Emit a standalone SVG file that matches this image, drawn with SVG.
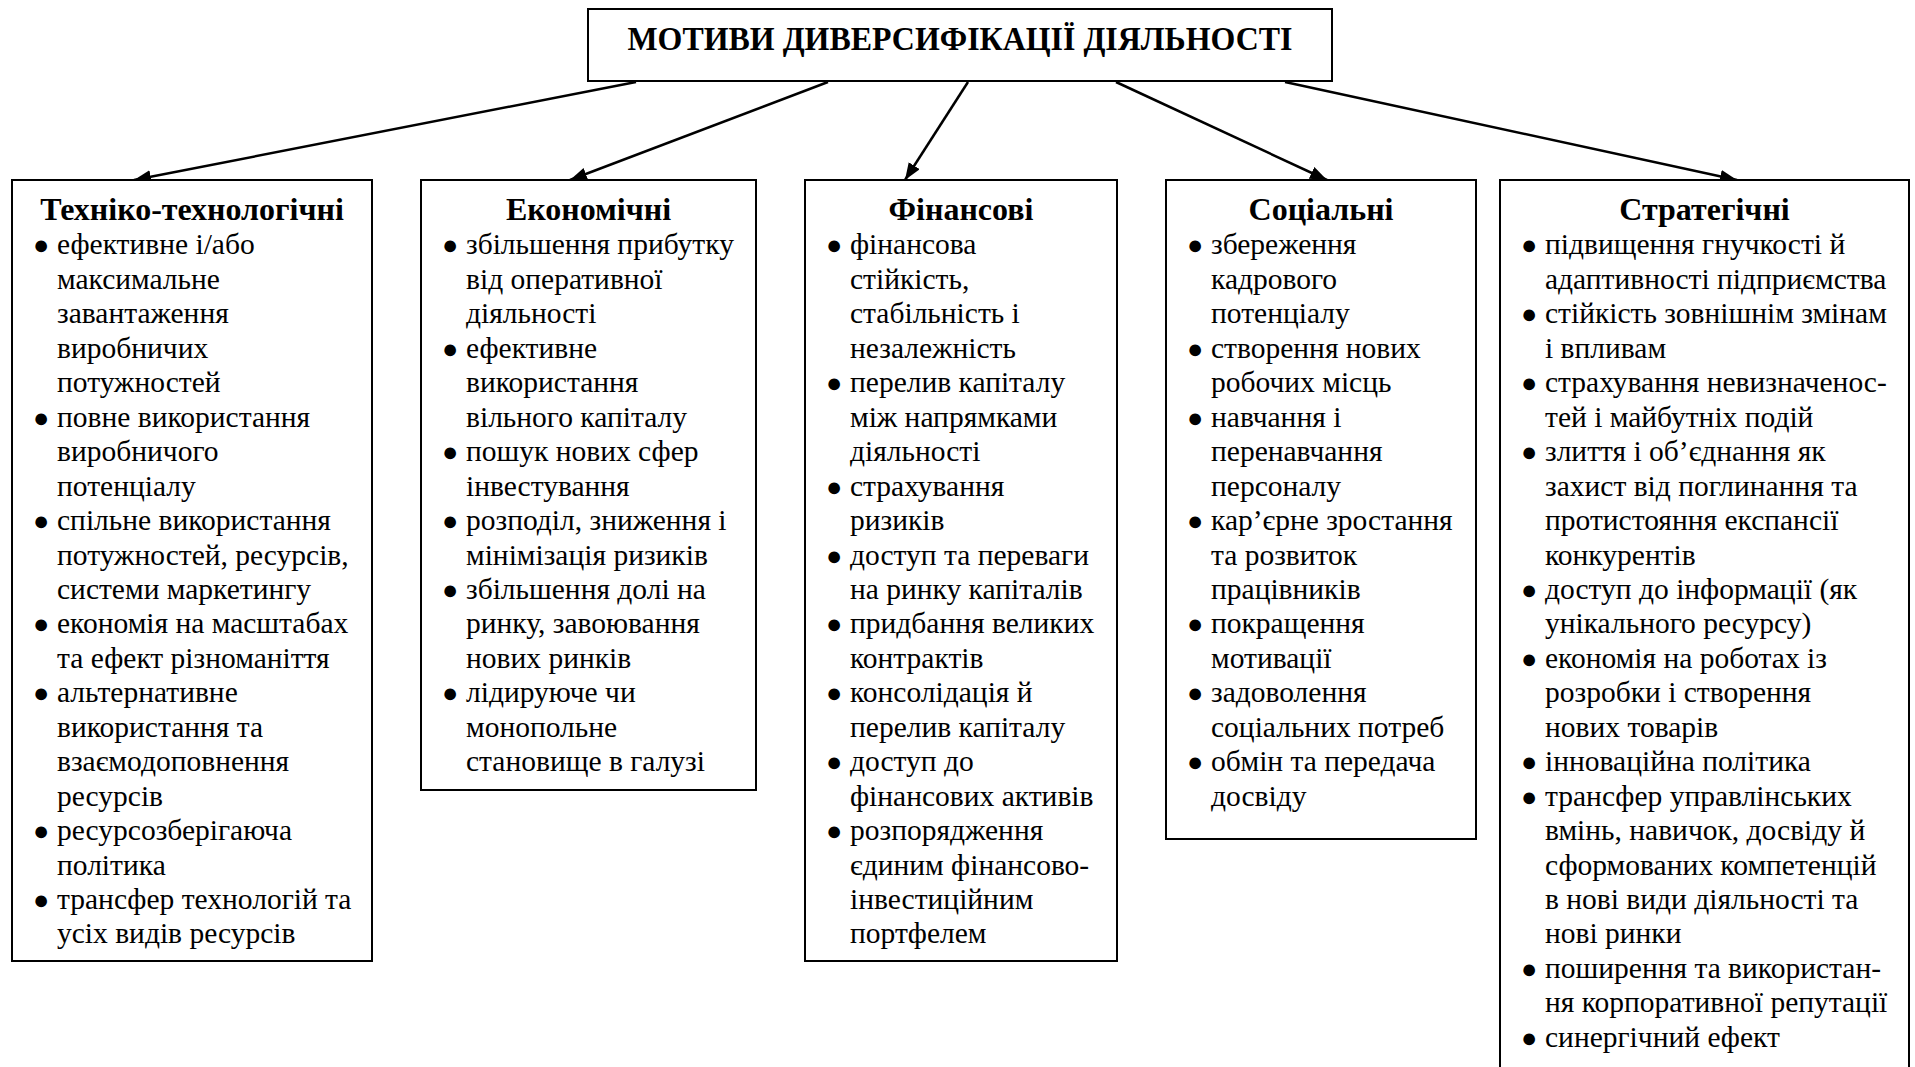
<svg xmlns="http://www.w3.org/2000/svg" width="1915" height="1067" viewBox="0 0 1915 1067">
<style>
.box{fill:#fff;stroke:#000;stroke-width:2}
.hd{font-family:"Liberation Serif","Times New Roman",serif;font-weight:bold;font-size:32px;text-anchor:middle;fill:#000}
.tt{font-family:"Liberation Serif","Times New Roman",serif;font-weight:bold;font-size:34px;text-anchor:middle;fill:#000}
.b{font-family:"Liberation Serif","Times New Roman",serif;font-size:29.5px;fill:#000}
.bul{font-family:"Liberation Serif","DejaVu Sans",serif;font-size:27px;fill:#000}
.cn{stroke:#000;stroke-width:2.5;fill:none;marker-end:url(#ah)}
</style>
<defs>
<marker id="ah" markerUnits="userSpaceOnUse" markerWidth="18" markerHeight="14" refX="17" refY="6.5" orient="auto">
<path d="M0,0 L17,6.5 L0,13 z" fill="#000"/>
</marker>
</defs>
<rect width="1915" height="1067" fill="#fff"/>
<g id="connectors">
<line class="cn" x1="636" y1="82" x2="134" y2="180"/>
<line class="cn" x1="828" y1="82" x2="570" y2="180"/>
<line class="cn" x1="968" y1="82" x2="905" y2="180"/>
<line class="cn" x1="1116" y1="82" x2="1327" y2="180"/>
<line class="cn" x1="1285" y1="82" x2="1737" y2="180"/>
</g>
<g id="root">
<rect class="box" x="588" y="9" width="744" height="72"/>
<text class="tt" x="960" y="50" textLength="665" lengthAdjust="spacingAndGlyphs">МОТИВИ ДИВЕРСИФІКАЦІЇ ДІЯЛЬНОСТІ</text>
</g>
<g id="tech">
<rect class="box" x="12" y="180" width="360" height="781"/>
<text class="hd" x="192" y="220">Техніко-технологічні</text>
<g class="bul">
<text x="33" y="254">●</text><text x="33" y="427">●</text><text x="33" y="530">●</text><text x="33" y="633">●</text><text x="33" y="702">●</text><text x="33" y="840">●</text><text x="33" y="909">●</text>
</g>
<text class="b">
<tspan x="57" y="254">ефективне і/або</tspan>
<tspan x="57" y="289">максимальне</tspan>
<tspan x="57" y="323">завантаження</tspan>
<tspan x="57" y="358">виробничих</tspan>
<tspan x="57" y="392">потужностей</tspan>
<tspan x="57" y="427">повне використання</tspan>
<tspan x="57" y="461">виробничого</tspan>
<tspan x="57" y="496">потенціалу</tspan>
<tspan x="57" y="530">спільне використання</tspan>
<tspan x="57" y="565">потужностей, ресурсів,</tspan>
<tspan x="57" y="599">системи маркетингу</tspan>
<tspan x="57" y="633">економія на масштабах</tspan>
<tspan x="57" y="668">та ефект різноманіття</tspan>
<tspan x="57" y="702">альтернативне</tspan>
<tspan x="57" y="737">використання та</tspan>
<tspan x="57" y="771">взаємодоповнення</tspan>
<tspan x="57" y="806">ресурсів</tspan>
<tspan x="57" y="840">ресурсозберігаюча</tspan>
<tspan x="57" y="875">політика</tspan>
<tspan x="57" y="909">трансфер технологій та</tspan>
<tspan x="57" y="943">усіх видів ресурсів</tspan>
</text>
</g>
<g id="econ">
<rect class="box" x="421" y="180" width="335" height="610"/>
<text class="hd" x="588.5" y="220">Економічні</text>
<g class="bul">
<text x="442" y="254">●</text><text x="442" y="358">●</text><text x="442" y="461">●</text><text x="442" y="530">●</text><text x="442" y="599">●</text><text x="442" y="702">●</text>
</g>
<text class="b">
<tspan x="466" y="254">збільшення прибутку</tspan>
<tspan x="466" y="289">від оперативної</tspan>
<tspan x="466" y="323">діяльності</tspan>
<tspan x="466" y="358">ефективне</tspan>
<tspan x="466" y="392">використання</tspan>
<tspan x="466" y="427">вільного капіталу</tspan>
<tspan x="466" y="461">пошук нових сфер</tspan>
<tspan x="466" y="496">інвестування</tspan>
<tspan x="466" y="530">розподіл, зниження і</tspan>
<tspan x="466" y="565">мінімізація ризиків</tspan>
<tspan x="466" y="599">збільшення долі на</tspan>
<tspan x="466" y="633">ринку, завоювання</tspan>
<tspan x="466" y="668">нових ринків</tspan>
<tspan x="466" y="702">лідируюче чи</tspan>
<tspan x="466" y="737">монопольне</tspan>
<tspan x="466" y="771">становище в галузі</tspan>
</text>
</g>
<g id="fin">
<rect class="box" x="805" y="180" width="312" height="781"/>
<text class="hd" x="961" y="220">Фінансові</text>
<g class="bul">
<text x="826" y="254">●</text><text x="826" y="392">●</text><text x="826" y="496">●</text><text x="826" y="565">●</text><text x="826" y="633">●</text><text x="826" y="702">●</text><text x="826" y="771">●</text><text x="826" y="840">●</text>
</g>
<text class="b">
<tspan x="850" y="254">фінансова</tspan>
<tspan x="850" y="289">стійкість,</tspan>
<tspan x="850" y="323">стабільність і</tspan>
<tspan x="850" y="358">незалежність</tspan>
<tspan x="850" y="392">перелив капіталу</tspan>
<tspan x="850" y="427">між напрямками</tspan>
<tspan x="850" y="461">діяльності</tspan>
<tspan x="850" y="496">страхування</tspan>
<tspan x="850" y="530">ризиків</tspan>
<tspan x="850" y="565">доступ та переваги</tspan>
<tspan x="850" y="599">на ринку капіталів</tspan>
<tspan x="850" y="633">придбання великих</tspan>
<tspan x="850" y="668">контрактів</tspan>
<tspan x="850" y="702">консолідація й</tspan>
<tspan x="850" y="737">перелив капіталу</tspan>
<tspan x="850" y="771">доступ до</tspan>
<tspan x="850" y="806">фінансових активів</tspan>
<tspan x="850" y="840">розпорядження</tspan>
<tspan x="850" y="875">єдиним фінансово-</tspan>
<tspan x="850" y="909">інвестиційним</tspan>
<tspan x="850" y="943">портфелем</tspan>
</text>
</g>
<g id="soc">
<rect class="box" x="1166" y="180" width="310" height="659"/>
<text class="hd" x="1321" y="220">Соціальні</text>
<g class="bul">
<text x="1187" y="254">●</text><text x="1187" y="358">●</text><text x="1187" y="427">●</text><text x="1187" y="530">●</text><text x="1187" y="633">●</text><text x="1187" y="702">●</text><text x="1187" y="771">●</text>
</g>
<text class="b">
<tspan x="1211" y="254">збереження</tspan>
<tspan x="1211" y="289">кадрового</tspan>
<tspan x="1211" y="323">потенціалу</tspan>
<tspan x="1211" y="358">створення нових</tspan>
<tspan x="1211" y="392">робочих місць</tspan>
<tspan x="1211" y="427">навчання і</tspan>
<tspan x="1211" y="461">перенавчання</tspan>
<tspan x="1211" y="496">персоналу</tspan>
<tspan x="1211" y="530">кар’єрне зростання</tspan>
<tspan x="1211" y="565">та розвиток</tspan>
<tspan x="1211" y="599">працівників</tspan>
<tspan x="1211" y="633">покращення</tspan>
<tspan x="1211" y="668">мотивації</tspan>
<tspan x="1211" y="702">задоволення</tspan>
<tspan x="1211" y="737">соціальних потреб</tspan>
<tspan x="1211" y="771">обмін та передача</tspan>
<tspan x="1211" y="806">досвіду</tspan>
</text>
</g>
<g id="strat">
<rect class="box" x="1500" y="180" width="409" height="910"/>
<text class="hd" x="1704.5" y="220">Стратегічні</text>
<g class="bul">
<text x="1521" y="254">●</text><text x="1521" y="323">●</text><text x="1521" y="392">●</text><text x="1521" y="461">●</text><text x="1521" y="599">●</text><text x="1521" y="668">●</text><text x="1521" y="771">●</text><text x="1521" y="806">●</text><text x="1521" y="978">●</text><text x="1521" y="1047">●</text>
</g>
<text class="b">
<tspan x="1545" y="254">підвищення гнучкості й</tspan>
<tspan x="1545" y="289">адаптивності підприємства</tspan>
<tspan x="1545" y="323">стійкість зовнішнім змінам</tspan>
<tspan x="1545" y="358">і впливам</tspan>
<tspan x="1545" y="392">страхування невизначенос-</tspan>
<tspan x="1545" y="427">тей і майбутніх подій</tspan>
<tspan x="1545" y="461">злиття і об’єднання як</tspan>
<tspan x="1545" y="496">захист від поглинання та</tspan>
<tspan x="1545" y="530">протистояння експансії</tspan>
<tspan x="1545" y="565">конкурентів</tspan>
<tspan x="1545" y="599">доступ до інформації (як</tspan>
<tspan x="1545" y="633">унікального ресурсу)</tspan>
<tspan x="1545" y="668">економія на роботах із</tspan>
<tspan x="1545" y="702">розробки і створення</tspan>
<tspan x="1545" y="737">нових товарів</tspan>
<tspan x="1545" y="771">інноваційна політика</tspan>
<tspan x="1545" y="806">трансфер управлінських</tspan>
<tspan x="1545" y="840">вмінь, навичок, досвіду й</tspan>
<tspan x="1545" y="875">сформованих компетенцій</tspan>
<tspan x="1545" y="909">в нові види діяльності та</tspan>
<tspan x="1545" y="943">нові ринки</tspan>
<tspan x="1545" y="978">поширення та використан-</tspan>
<tspan x="1545" y="1012">ня корпоративної репутації</tspan>
<tspan x="1545" y="1047">синергічний ефект</tspan>
</text>
</g>
</svg>
